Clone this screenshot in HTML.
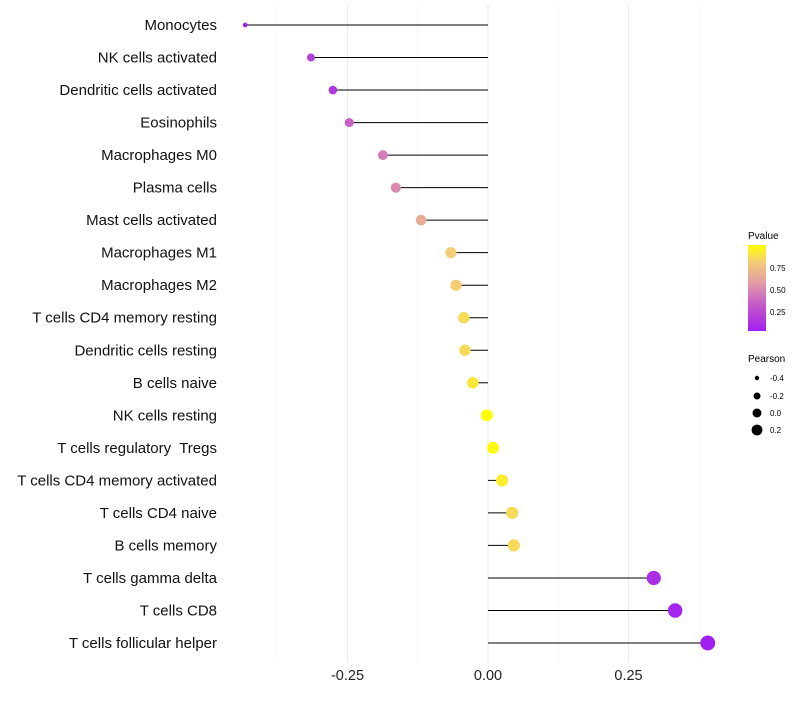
<!DOCTYPE html>
<html><head><meta charset="utf-8"><style>
body{margin:0;background:#fff;font-family:"Liberation Sans",sans-serif}
svg text{font-family:"Liberation Sans",sans-serif;white-space:pre}
</style></head><body>
<svg id="chart" width="800" height="700">
<defs><linearGradient id="pg" x1="0" y1="1" x2="0" y2="0">
<stop offset="0" stop-color="#a020f0"/><stop offset="0.3" stop-color="#c458c8"/><stop offset="0.55" stop-color="#e09aa8"/><stop offset="0.8" stop-color="#f4cc78"/><stop offset="1" stop-color="#ffff00"/></linearGradient></defs>
<g id="grid"></g><g id="marks"></g><g id="labels"></g>
<g>
<text x="748" y="239" font-size="10">Pvalue</text>
<rect x="748" y="245" width="18" height="86" fill="url(#pg)"/>
<text x="770" y="271" font-size="8">0.75</text><text x="770" y="293" font-size="8">0.50</text><text x="770" y="315" font-size="8">0.25</text>
</g>
<g>
<text x="748" y="362" font-size="10">Pearson</text>
<circle cx="757" cy="378" r="2.2"/><text x="770" y="381" font-size="8">-0.4</text>
<circle cx="757" cy="396" r="3.5"/><text x="770" y="399" font-size="8">-0.2</text>
<circle cx="757" cy="413" r="4.5"/><text x="770" y="416" font-size="8">0.0</text>
<circle cx="757" cy="430" r="5.4"/><text x="770" y="433" font-size="8">0.2</text>
</g>
</svg>
<script>
const cells=["Monocytes","NK cells activated","Dendritic cells activated","Eosinophils","Macrophages M0","Plasma cells","Mast cells activated","Macrophages M1","Macrophages M2","T cells CD4 memory resting","Dendritic cells resting","B cells naive","NK cells resting","T cells regulatory  Tregs","T cells CD4 memory activated","T cells CD4 naive","B cells memory","T cells gamma delta","T cells CD8","T cells follicular helper"];
const pearson=[-0.432,-0.315,-0.276,-0.247,-0.187,-0.164,-0.119,-0.066,-0.057,-0.043,-0.041,-0.027,-0.002,0.009,0.025,0.043,0.046,0.295,0.333,0.391];
const pvalues=[0.03,0.2,0.15,0.35,0.45,0.5,0.65,0.8,0.8,0.85,0.85,0.9,0.99,0.97,0.92,0.85,0.85,0.1,0.06,0.03];
const ticks=[-0.25,0,0.25];
const tickLabels=["-0.25","0.00","0.25"];
const NS="http://www.w3.org/2000/svg";
const x=v=>488+v*562;
const y=i=>25+i*(618/19);
const rad=v=>1.8+Math.sqrt(Math.max(0,(v+0.44)))*6.2;
const stops=[[0,[160,32,240]],[0.3,[196,88,200]],[0.55,[224,154,168]],[0.8,[244,204,120]],[1,[255,255,0]]];
function col(p){p=(p-0.03)/0.96;p=Math.max(0,Math.min(1,p));for(let k=1;k<stops.length;k++){if(p<=stops[k][0]){const a=stops[k-1],b=stops[k],t=(p-a[0])/(b[0]-a[0]);return "rgb("+a[1].map((c,j)=>Math.round(c+(b[1][j]-c)*t)).join(",")+")";}}return "rgb(255,255,0)";}
function mk(t,a,p){const e=document.createElementNS(NS,t);for(const k in a)e.setAttribute(k,a[k]);p.appendChild(e);return e;}
const grid=document.getElementById("grid"),marks=document.getElementById("marks"),labels=document.getElementById("labels");
[-0.375,-0.125,0.125,0.375].forEach(v=>{const l=mk("line",{x1:x(v),x2:x(v),y1:5,y2:662,stroke:"#f4f4f4","stroke-width":0.8},grid);

});
ticks.forEach((v,i)=>{const l=mk("line",{x1:x(v),x2:x(v),y1:5,y2:662,stroke:"#ebebeb","stroke-width":1.2},grid);


const t=mk("text",{x:x(v),y:680,"font-size":14.5,"text-anchor":"middle",fill:"#222"},labels);t.textContent=tickLabels[i];

});
cells.forEach((c,i)=>{
const l=mk("line",{x1:x(0),x2:x(pearson[i]),y1:y(i),y2:y(i),stroke:"#000","stroke-width":1},marks);


const d=mk("circle",{cx:x(pearson[i]),cy:y(i),r:rad(pearson[i]),fill:col(pvalues[i])},marks);


const t=mk("text",{x:217,y:y(i)+5,"font-size":15,"text-anchor":"end",fill:"#111"},labels);t.textContent=c;


});
</script>
</body></html>
